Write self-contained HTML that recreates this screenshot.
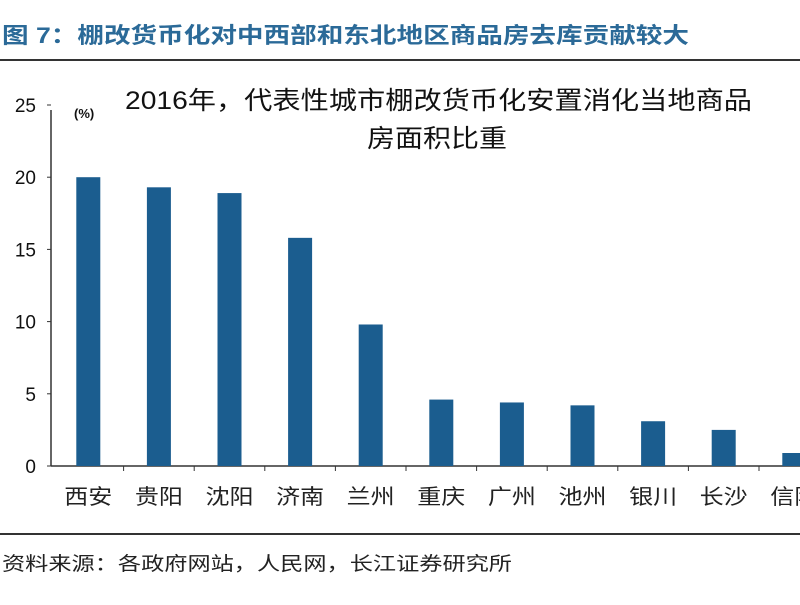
<!DOCTYPE html>
<html><head><meta charset="utf-8"><style>
body{margin:0;background:#fff;width:800px;height:600px;overflow:hidden;font-family:"Liberation Sans","Noto Sans CJK SC",sans-serif}
</style></head><body>
<svg width="800" height="600" xmlns="http://www.w3.org/2000/svg" font-family="'Liberation Sans','Noto Sans CJK SC',sans-serif">
<text x="2" y="43" font-size="22" fill="#2b6a98" font-weight="bold" textLength="687" lengthAdjust="spacingAndGlyphs">图 7：棚改货币化对中西部和东北地区商品房去库贡献较大</text>
<rect x="0" y="59" width="800" height="2" fill="#333"/>
<text x="125" y="109" font-size="25" fill="#111" textLength="627" lengthAdjust="spacingAndGlyphs">2016年，代表性城市棚改货币化安置消化当地商品</text>
<text x="367" y="147" font-size="25" fill="#111" textLength="140" lengthAdjust="spacingAndGlyphs">房面积比重</text>
<text x="74" y="118" font-size="13" fill="#111" font-weight="bold">(%)</text>
<g id="plot"></g>
<rect x="0" y="533" width="800" height="2" fill="#333"/>
<text x="2" y="570" font-size="19" fill="#222" textLength="510" lengthAdjust="spacingAndGlyphs">资料来源：各政府网站，人民网，长江证券研究所</text>
</svg>
<script>
const categories=["西安","贵阳","沈阳","济南","兰州","重庆","广州","池州","银川","长沙","信阳"];
const values=[20,19.3,18.9,15.8,9.8,4.6,4.4,4.2,3.1,2.5,0.9];
const yTicks=[0,5,10,15,20,25];
const NS="http://www.w3.org/2000/svg";
const g=document.getElementById('plot');
const x0=53,band=70.6,y0=466,yTop=105,yMax=25;
const y=v=>y0-(v/yMax)*(y0-yTop);
const xc=i=>x0+band*(i+0.5);
function mk(t,a){const e=document.createElementNS(NS,t);for(const k in a)e.setAttribute(k,a[k]);g.appendChild(e);return e;}
const ax=mk('line',{x1:x0-2,y1:110,x2:x0-2,y2:y0,stroke:'#333','stroke-width':1.5});


yTicks.forEach(t=>{
 const tl=mk('line',{x1:x0-6,y1:y(t),x2:x0-2,y2:y(t),stroke:'#333'});
 
 
 const tx=mk('text',{x:36,y:y(t)+7,'font-size':19,'text-anchor':'end',fill:'#111'});
 tx.textContent=t;
 
 
});
const xa=mk('line',{x1:x0-2,y1:y0,x2:800,y2:y0,stroke:'#333','stroke-width':1.5});


categories.forEach((c,i)=>{
 const tk=mk('line',{x1:x0+band*(i+1),y1:y0,x2:x0+band*(i+1),y2:y0+5,stroke:'#333'});
 
 
 const b=mk('rect',{x:xc(i)-12,y:y(values[i]),width:24,height:y0-y(values[i]),fill:'#1b5d8f'});
 
 
 const l=mk('text',{x:xc(i)-24,y:504,'font-size':21,fill:'#222',textLength:48,lengthAdjust:'spacingAndGlyphs'});
 l.textContent=c;
 
 
});
</script>
</body></html>
